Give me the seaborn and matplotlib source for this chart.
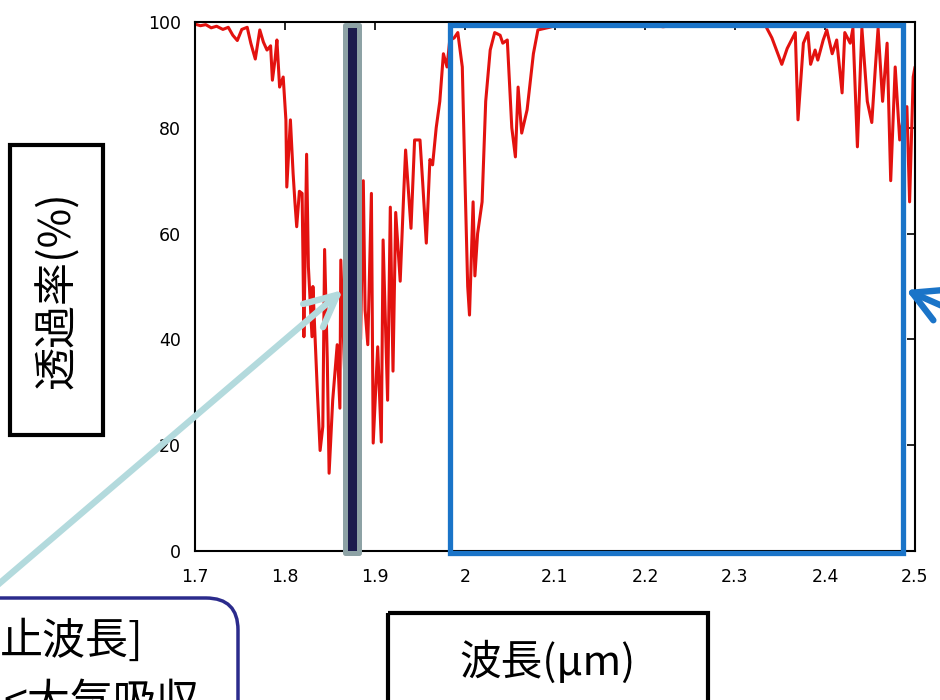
import matplotlib
matplotlib.use("Agg")
import matplotlib.pyplot as plt
from matplotlib.patches import Rectangle, FancyBboxPatch
from matplotlib.transforms import Affine2D
import seaborn as sns
import pandas as pd

# ---- data ----
wavelength = [
    1.700, 1.706, 1.712, 1.718, 1.724, 1.731, 1.737, 1.742, 1.747, 1.752,
    1.758, 1.762, 1.767, 1.772, 1.776, 1.780, 1.784, 1.786, 1.789, 1.791,
    1.794, 1.798, 1.801, 1.802, 1.804, 1.806, 1.809, 1.811, 1.813, 1.816,
    1.819, 1.820, 1.821, 1.824, 1.826, 1.830, 1.831, 1.836, 1.839, 1.842,
    1.844, 1.847, 1.849, 1.853, 1.858, 1.861, 1.862, 1.864, 1.868, 1.872,
    1.876, 1.880, 1.884, 1.887, 1.889, 1.892, 1.896, 1.898, 1.903, 1.907,
    1.909, 1.912, 1.914, 1.917, 1.920, 1.923, 1.928, 1.932, 1.934, 1.940,
    1.944, 1.950, 1.953, 1.957, 1.961, 1.964, 1.968, 1.972, 1.976, 1.980,
    1.983, 1.988, 1.992, 1.997, 2.000, 2.003, 2.005, 2.007, 2.009, 2.011,
    2.014, 2.019, 2.023, 2.028, 2.033, 2.039, 2.042, 2.047, 2.052, 2.056,
    2.059, 2.063, 2.069, 2.076, 2.081, 2.094, 2.100, 2.120, 2.140, 2.160,
    2.180, 2.200, 2.220, 2.240, 2.260, 2.280, 2.300, 2.320, 2.333, 2.341,
    2.352, 2.358, 2.367, 2.370, 2.376, 2.381, 2.384, 2.389, 2.392, 2.398,
    2.402, 2.408, 2.413, 2.419, 2.422, 2.428, 2.431, 2.436, 2.441, 2.447,
    2.452, 2.456, 2.459, 2.464, 2.469, 2.473, 2.478, 2.483, 2.487, 2.491,
    2.494, 2.498, 2.500,
]
transmittance = [
    99.6, 99.3, 99.5, 98.9, 99.2, 98.6, 99.0, 97.5, 96.5, 98.6,
    99.0, 96.0, 93.0, 98.5, 96.2, 94.7, 95.5, 89.0, 93.0, 96.6,
    87.7, 89.6, 81.5, 68.8, 75.0, 81.5, 71.4, 66.0, 61.3, 68.0,
    67.6, 55.0, 40.5, 75.0, 53.7, 40.5, 50.0, 30.0, 19.0, 23.5,
    57.0, 36.0, 14.7, 28.5, 39.0, 27.0, 55.0, 45.0, 25.0, 50.0,
    30.0, 55.0, 40.0, 70.0, 45.5, 39.0, 67.6, 20.4, 38.6, 20.6,
    58.8, 41.0, 28.5, 65.0, 34.0, 64.0, 51.0, 68.0, 75.8, 61.0,
    77.7, 77.7, 69.6, 58.2, 74.0, 73.0, 80.0, 85.0, 94.0, 91.5,
    96.5, 97.0, 98.0, 91.5, 70.0, 50.0, 44.6, 55.0, 66.0, 52.0,
    60.0, 66.0, 85.0, 94.7, 98.0, 97.5, 96.0, 96.6, 80.0, 74.5,
    87.7, 79.0, 83.4, 94.0, 98.5, 99.0, 99.3, 99.6, 99.2, 99.5,
    99.4, 99.6, 99.1, 99.5, 99.3, 99.6, 99.4, 99.5, 99.6, 97.0,
    92.0, 95.0, 98.0, 81.5, 96.0, 98.0, 92.0, 94.7, 92.8, 96.6,
    98.5, 94.0, 96.6, 86.6, 98.0, 96.0, 98.8, 76.4, 98.8, 85.0,
    81.0, 91.5, 98.8, 85.0, 96.0, 70.0, 91.5, 77.7, 82.0, 84.0,
    66.0, 89.6, 91.5,
]
x_ticks = [1.7, 1.8, 1.9, 2.0, 2.1, 2.2, 2.3, 2.4, 2.5]
x_tick_labels = ["1.7", "1.8", "1.9", "2", "2.1", "2.2", "2.3", "2.4", "2.5"]
y_ticks = [0, 20, 40, 60, 80, 100]
y_tick_labels = ["0", "20", "40", "60", "80", "100"]
ylabel_text = "透過率(%)"
xlabel_text = "波長(μm)"
note_line1 = "止波長]"
note_line2 = "<大気吸収"
band_cut = (1.8665, 1.8824)       # dark bar
band_window = (1.9833, 2.4872)    # blue frame

df = pd.DataFrame({"wl": wavelength, "T": transmittance})

sns.set_style("white")
plt.rcParams["font.family"] = ["DejaVu Sans", "Noto Sans CJK JP"]
CJK = ["Noto Sans CJK JP", "DejaVu Sans"]

W, H = 940, 700
fig = plt.figure(figsize=(W / 100, H / 100), dpi=100)
fig.patch.set_facecolor("white")
ax = fig.add_axes([195 / W, (H - 551) / H, 720 / W, 529 / H])

sns.lineplot(data=df, x="wl", y="T", ax=ax, color="#e3120f", lw=2.2,
             estimator=None, sort=False, zorder=2)

ax.set_xlim(1.7, 2.5)
ax.set_ylim(0, 100)
ax.set_xticks(x_ticks)
ax.set_xticklabels(x_tick_labels)
ax.set_yticks(y_ticks)
ax.set_yticklabels(y_tick_labels)
ax.set_xlabel("")
ax.set_ylabel("")
ax.tick_params(axis="both", direction="in", length=6, width=1.2,
               top=True, right=True, labelsize=12.5, colors="black")
ax.tick_params(axis="x", pad=12)
ax.tick_params(axis="y", pad=10)
for s in ax.spines.values():
    s.set_color("black")
    s.set_linewidth(1.5)
    s.set_visible(True)

# dark absorption bar
ax.add_patch(Rectangle((band_cut[0], -0.3), band_cut[1] - band_cut[0], 99.7,
                       facecolor="#1b1b4d", edgecolor="#8da2a5", lw=3.6,
                       clip_on=False, zorder=4, joinstyle="round"))
# blue window frame
ax.add_patch(Rectangle((band_window[0], -0.3), band_window[1] - band_window[0], 99.7,
                       fill=False, edgecolor="#1a74c8", lw=3.8,
                       clip_on=False, zorder=4))

# pixel transform (top-left origin)
T = Affine2D().scale(0.01, -0.01).translate(0, H / 100) + fig.dpi_scale_trans

# y-label box
fig.add_artist(Rectangle((10, 145), 93, 290, transform=T, fill=False,
                         edgecolor="black", lw=3))
fig.text(58, 290, ylabel_text, transform=T, rotation=90, ha="center",
         va="center", fontsize=31, family=CJK, color="black")

# x-label box
fig.add_artist(Rectangle((388, 613), 320, 120, transform=T, fill=False,
                         edgecolor="black", lw=3, clip_on=False))
fig.text(548, 662, xlabel_text, transform=T, ha="center", va="center",
         fontsize=30, family=CJK, color="black")

# bottom-left rounded note box
fig.add_artist(FancyBboxPatch((-40, 598), 278, 140, transform=T,
                              boxstyle="round,pad=0,rounding_size=32",
                              fill=False, edgecolor="#2b2b8c", lw=2.5))
fig.text(0, 642, note_line1, transform=T, ha="left", va="center",
         fontsize=31, family=CJK, color="black")
fig.text(3, 703, note_line2, transform=T, ha="left", va="center",
         fontsize=31, family=CJK, color="black")

# arrows (figure pixels, bottom-left origin)
ax.annotate("", xy=(343, H - 290), xycoords="figure pixels",
            xytext=(-20, H - 600), textcoords="figure pixels",
            arrowprops=dict(arrowstyle="->,head_length=2.3,head_width=1.1",
                            lw=4.6, color="#b3dadd", mutation_scale=10,
                            shrinkA=0, shrinkB=0, capstyle="round"),
            annotation_clip=False, zorder=6)
ax.annotate("", xy=(906, H - 290), xycoords="figure pixels",
            xytext=(990, H - 327), textcoords="figure pixels",
            arrowprops=dict(arrowstyle="->,head_length=2.2,head_width=1.2",
                            lw=4.6, color="#1a74c8", mutation_scale=10,
                            shrinkA=0, shrinkB=0),
            annotation_clip=False, zorder=6)

fig.savefig("out.png", dpi=100)
